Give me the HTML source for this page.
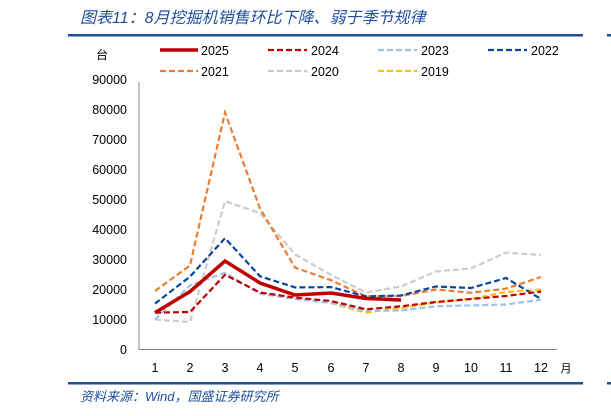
<!DOCTYPE html>
<html><head><meta charset="utf-8"><style>
body{margin:0;background:#fff;width:611px;height:416px;overflow:hidden}
svg{display:block}
text{font-family:"Liberation Sans","Noto Sans CJK SC",sans-serif}
</style></head><body>
<svg width="611" height="416" viewBox="0 0 611 416">
<text x="80" y="23" font-size="16" fill="#1f4e9a" font-style="italic" font-family="Liberation Serif,'Noto Serif CJK SC',serif">图表11：8月挖掘机销售环比下降、弱于季节规律</text>
<rect x="68" y="34" width="515" height="2.5" fill="#1f4e9a"/>
<rect x="607" y="34" width="4" height="2.5" fill="#1f4e9a"/>
<rect x="68" y="382" width="515" height="2.5" fill="#1f4e9a"/>
<rect x="607" y="382" width="4" height="2.5" fill="#1f4e9a"/>
<text x="80" y="401" font-size="13" fill="#1f4e9a" font-style="italic">资料来源：Wind，国盛证券研究所</text>
<text x="96" y="59" font-size="12" fill="#000">台</text>
<g font-size="12.5" fill="#000" text-anchor="end">
<text x="127" y="84">90000</text><text x="127" y="114">80000</text><text x="127" y="144">70000</text>
<text x="127" y="174">60000</text><text x="127" y="204">50000</text><text x="127" y="234">40000</text>
<text x="127" y="264">30000</text><text x="127" y="294">20000</text><text x="127" y="324">10000</text>
<text x="127" y="354">0</text></g>
<path d="M139 82V349.5H557" fill="none" stroke="#888" stroke-width="1"/>
<g font-size="12.5" fill="#000" text-anchor="middle">
<text x="155" y="372">1</text><text x="190" y="372">2</text><text x="225" y="372">3</text><text x="260" y="372">4</text><text x="295" y="372">5</text><text x="331" y="372">6</text><text x="366" y="372">7</text><text x="401" y="372">8</text><text x="436" y="372">9</text><text x="471" y="372">10</text><text x="506" y="372">11</text><text x="541" y="372">12</text>
<text x="566" y="372" font-size="11">月</text></g>
<g fill="none" stroke-width="2.2" stroke-dasharray="6,3">
<polyline stroke="#ffc000" points="331,303 366,312.6 401,308 436,302.4 471,299 506,292 541,289.5"/>
<polyline stroke="#cccccc" points="155,319.5 190,322 225,201.3 260,213 295,254.4 331,275 366,292.5 401,286.5 436,271.5 471,268.5 506,252.6 541,255"/>
<polyline stroke="#ed7d31" points="155,291 190,265.5 225,112.5 260,208.5 295,267.6 331,280.2 366,296.4 401,296 436,289.5 471,292.8 506,288.6 541,277"/>
<polyline stroke="#0b45a0" points="155,303.6 190,276.6 225,238.2 260,276.3 295,287.4 331,287.1 366,296.4 401,295.5 436,286.5 471,288 506,278 541,299"/>
<polyline stroke="#9dc3e6" points="155,319.5 190,285.3 225,272.7 260,293.7 295,299 331,303 366,311 401,310.5 436,306.3 471,305.4 506,304.5 541,299.7"/>
<polyline stroke="#c00000" points="155,312.6 190,312 225,274.8 260,292.5 295,297.6 331,301 366,309.3 401,306.3 436,302 471,299 506,296 541,291.6"/>
</g>
<polyline fill="none" stroke="#c00000" stroke-width="3.5" points="155,312.6 190,291.6 225,261 260,283 295,295 331,293 366,298.5 401,300"/>
<g font-size="12.5" fill="#000">
<line x1="160" y1="50" x2="198" y2="50" stroke="#c00000" stroke-width="3.5"/><text x="201" y="55">2025</text>
<line x1="268" y1="50" x2="307" y2="50" stroke="#c00000" stroke-width="2.2" stroke-dasharray="6,3"/><text x="311" y="55">2024</text>
<line x1="378" y1="50" x2="417" y2="50" stroke="#9dc3e6" stroke-width="2.2" stroke-dasharray="6,3"/><text x="421" y="55">2023</text>
<line x1="488" y1="50" x2="527" y2="50" stroke="#0b45a0" stroke-width="2.2" stroke-dasharray="6,3"/><text x="531" y="55">2022</text>
<line x1="160" y1="71" x2="198" y2="71" stroke="#ed7d31" stroke-width="2.2" stroke-dasharray="6,3"/><text x="201" y="76">2021</text>
<line x1="268" y1="71" x2="307" y2="71" stroke="#cccccc" stroke-width="2.2" stroke-dasharray="6,3"/><text x="311" y="76">2020</text>
<line x1="378" y1="71" x2="417" y2="71" stroke="#ffc000" stroke-width="2.2" stroke-dasharray="6,3"/><text x="421" y="76">2019</text>
</g>
</svg>
</body></html>
